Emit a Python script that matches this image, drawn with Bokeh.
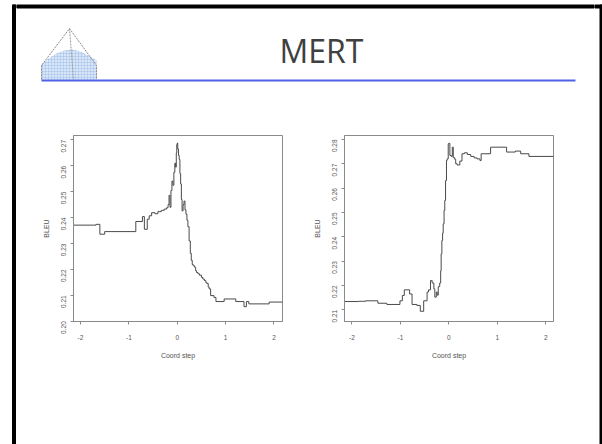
import math
from bokeh.plotting import figure
from bokeh.layouts import row, column
from bokeh.models import Range1d, FixedTicker, Label, NumeralTickFormatter
from bokeh.embed import file_html
from bokeh.resources import INLINE

# ---------------- data ----------------
TITLE = "MERT"
X_LABEL = "Coord step"
Y_LABEL = "BLEU"
X_TICKS = [-2, -1, 0, 1, 2]
X_TICK_LABELS = ["-2", "-1", "0", "1", "2"]

LEFT_Y_TICKS = [0.20, 0.21, 0.22, 0.23, 0.24, 0.25, 0.26, 0.27]
RIGHT_Y_TICKS = [0.21, 0.22, 0.23, 0.24, 0.25, 0.26, 0.27, 0.28]

left_x = [-2.145, -1.68, -1.60, -1.50, -0.857, -0.72, -0.68, -0.62, -0.58, -0.53,
          -0.46, -0.40, -0.33, -0.27, -0.22, -0.19, -0.17, -0.15, -0.13, -0.11,
          -0.09, -0.07, -0.05, -0.035, -0.02, -0.01, 0.00, 0.01, 0.025, 0.04,
          0.055, 0.07, 0.085, 0.10, 0.12, 0.14, 0.16, 0.18, 0.20, 0.22,
          0.245, 0.27, 0.29, 0.31, 0.33, 0.36, 0.38, 0.40, 0.43, 0.46,
          0.50, 0.53, 0.56, 0.59, 0.61, 0.64, 0.66, 0.69, 0.76, 0.80,
          0.97, 1.21, 1.38, 1.43, 1.48, 1.90, 2.176]
left_bleu = [0.2371, 0.2374, 0.2336, 0.2346, 0.2385, 0.2404, 0.2355, 0.2394, 0.2407, 0.2419,
             0.2415, 0.2423, 0.2428, 0.2433, 0.2438, 0.2450, 0.2486, 0.2440, 0.2505, 0.2541,
             0.2525, 0.2575, 0.2610, 0.2595, 0.2650, 0.2682, 0.2688, 0.2665, 0.2640, 0.2625,
             0.2570, 0.2530, 0.2470, 0.2426, 0.2450, 0.2464, 0.2430, 0.2413, 0.2390, 0.2365,
             0.2310, 0.2262, 0.2235, 0.2219, 0.2214, 0.2208, 0.2195, 0.2188, 0.2183, 0.2178,
             0.2169, 0.2163, 0.2157, 0.2150, 0.2146, 0.2132, 0.2125, 0.2099, 0.2092, 0.2076,
             0.2086, 0.2076, 0.2056, 0.2076, 0.2067, 0.2074, 0.2074]

right_x = [-2.153, -1.86, -1.72, -1.465, -1.28, -1.01, -0.96, -0.92, -0.81, -0.76,
           -0.66, -0.59, -0.52, -0.45, -0.42, -0.38, -0.345, -0.31, -0.29, -0.26,
           -0.24, -0.22, -0.19, -0.17, -0.16, -0.145, -0.13, -0.118, -0.10, -0.085,
           -0.069, -0.05, -0.035, -0.014, 0.00, 0.02, 0.05, 0.07, 0.09, 0.12,
           0.14, 0.17, 0.225, 0.27, 0.32, 0.38, 0.45, 0.52, 0.58, 0.64,
           0.665, 0.86, 1.19, 1.37, 1.48, 1.65, 2.157]
right_bleu = [0.2134, 0.2135, 0.2137, 0.2127, 0.2122, 0.2137, 0.2159, 0.2182, 0.2165, 0.2122,
              0.2118, 0.2094, 0.2137, 0.2173, 0.2182, 0.2220, 0.2210, 0.2186, 0.2152, 0.2173,
              0.2160, 0.2195, 0.2210, 0.2260, 0.2330, 0.2385, 0.2415, 0.2453, 0.2508, 0.2549,
              0.2631, 0.2714, 0.2720, 0.2782, 0.2784, 0.2734, 0.2730, 0.2768, 0.2725, 0.2718,
              0.2700, 0.2695, 0.2711, 0.2741, 0.2745, 0.2738, 0.2730, 0.2724, 0.2720, 0.2713,
              0.2741, 0.2768, 0.2748, 0.2752, 0.2741, 0.2730, 0.2730]

# ---------------- styling ----------------
TEXT_COLOR = "#555555"
BOX_COLOR = "#8a8a8a"
LINE_COLOR = "#4a4a4a"
FONT = "Liberation Sans"


def blank(width, height, xr, yr):
    f = figure(width=width, height=height, x_range=Range1d(*xr), y_range=Range1d(*yr),
               toolbar_location=None, output_backend="svg", min_border=0,
               x_axis_type=None, y_axis_type=None)
    f.grid.visible = False
    f.outline_line_color = None
    return f


# slide frame pieces (left and right strips include the corner of the top edge)
left_strip = blank(16, 444, (0, 16), (444, 0))
left_strip.quad(left=[12, 12], right=[15, 16], bottom=[444, 7.5], top=[4.5, 4.5], color="black")
right_strip = blank(8, 444, (594, 602), (444, 0))
right_strip.quad(left=[599.5, 594], right=[602, 602], bottom=[444, 7.5], top=[4.5, 4.5],
                 color="black")

# header: top frame edge, title, logo, rule
header = blank(578, 100, (16, 594), (100, 0))
header.quad(left=[16], right=[594], bottom=[7.5], top=[4.5], color="black")
header.patch([41, 41, 48, 56, 64, 72, 80, 88, 96, 96],
             [79, 64, 58, 53, 50, 49, 51, 55, 60, 79],
             fill_color="#d8e6f8", line_color=None,
             hatch_pattern="+", hatch_color="#a6c2ea", hatch_scale=3, hatch_weight=0.6)
header.line([41, 41, 69, 96, 96], [79, 65, 28, 65, 79], line_color="#8a8a8a",
            line_width=1, line_dash="2 1")
header.line([69, 73], [28, 79], line_color="#9a9a9a", line_width=1, line_dash="2 1")
header.line([41, 575], [80, 80], line_color="#4f62e6", line_width=2)
header.add_layout(Label(x=321, y=50, text=TITLE, text_align="center", text_baseline="middle",
                        text_font="Open Sans", text_font_size="32px", text_color="#404040"))


def make_plot(xs, ys, width, mbl, mbr, xr, yr, yticks):
    p = figure(width=width, height=344, x_range=Range1d(*xr), y_range=Range1d(*yr),
               toolbar_location=None, output_backend="svg",
               min_border_left=mbl, min_border_right=mbr,
               min_border_top=35, min_border_bottom=123)
    p.step(xs, ys, mode="after", line_color=LINE_COLOR, line_width=1)
    p.grid.visible = False
    p.outline_line_color = BOX_COLOR
    p.outline_line_width = 1
    for ax in (p.xaxis[0], p.yaxis[0]):
        ax.axis_line_color = BOX_COLOR
        ax.major_tick_line_color = BOX_COLOR
        ax.major_tick_out = 3
        ax.major_tick_in = 0
        ax.minor_tick_line_color = None
        ax.major_label_text_font = FONT
        ax.major_label_text_font_size = "6.5px"
        ax.major_label_text_color = TEXT_COLOR
        ax.axis_label_text_font = FONT
        ax.axis_label_text_font_size = "7px"
        ax.axis_label_text_font_style = "normal"
        ax.axis_label_text_color = TEXT_COLOR
    p.xaxis.ticker = FixedTicker(ticks=X_TICKS)
    p.xaxis.major_label_overrides = {t: s for t, s in zip(X_TICKS, X_TICK_LABELS)}
    p.xaxis.major_label_standoff = 10
    p.xaxis.axis_label = X_LABEL
    p.xaxis.axis_label_standoff = 9
    p.yaxis.ticker = FixedTicker(ticks=yticks)
    p.yaxis.formatter = NumeralTickFormatter(format="0.00")
    p.yaxis.major_label_orientation = math.pi / 2
    p.yaxis.major_label_standoff = 7
    p.yaxis.axis_label = Y_LABEL
    p.yaxis.axis_label_standoff = 6
    return p


pl = make_plot(left_x, left_bleu, 285, 57, 19, (-2.145, 2.176), (0.1999, 0.2717), LEFT_Y_TICKS)
pr = make_plot(right_x, right_bleu, 293, 43, 41, (-2.153, 2.157), (0.2052, 0.2816), RIGHT_Y_TICKS)

layout = row(left_strip, column(header, row(pl, pr)), right_strip)

open("out.html", "w").write(file_html(layout, INLINE))
